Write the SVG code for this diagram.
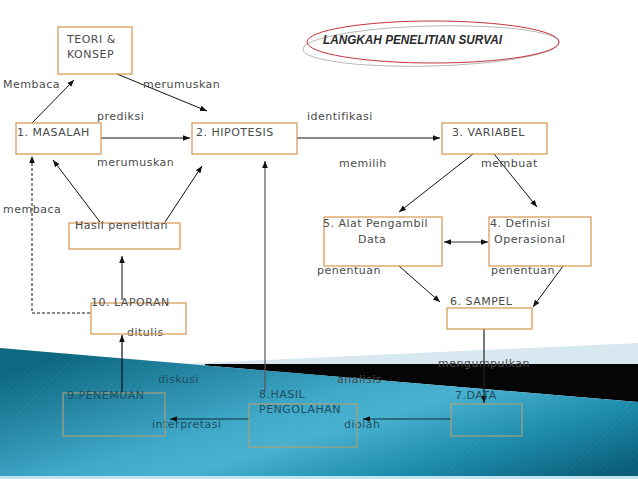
<svg xmlns="http://www.w3.org/2000/svg" width="638" height="479" viewBox="0 0 638 479">
<style>
.box{fill:none;stroke:#d6974e;stroke-width:1.2}
.boxb{fill:none;stroke:#a9a17c;stroke-width:1.2}
.t{font-family:"DejaVu Sans",sans-serif;font-size:11px;letter-spacing:0.5px;fill:#4a4a4a}
.tb{font-family:"DejaVu Sans",sans-serif;font-size:11px;letter-spacing:0.5px;fill:#204e60}
.ln{stroke:#111;stroke-width:1;fill:none}
</style>
<defs>
<marker id="ah" viewBox="0 0 10 10" refX="10" refY="5" markerWidth="7" markerHeight="7" orient="auto-start-reverse" markerUnits="userSpaceOnUse"><path d="M0,1 L10,5 L0,9 z" fill="#111"/></marker>
<linearGradient id="blue" x1="0" y1="0.2" x2="1" y2="0.9">
<stop offset="0" stop-color="#0c6781"/>
<stop offset="0.42" stop-color="#3fa8c8"/>
<stop offset="0.55" stop-color="#47b1cf"/>
<stop offset="0.78" stop-color="#1c8aac"/>
<stop offset="1" stop-color="#0a5d78"/>
</linearGradient>
<pattern id="stripes" width="5" height="5" patternUnits="userSpaceOnUse" patternTransform="rotate(45)"><line x1="0" y1="0" x2="0" y2="5" stroke="#ffffff" stroke-width="1" opacity="0.07"/></pattern>
</defs>
<rect width="638" height="479" fill="#ffffff"/>
<g id="background">
<polygon points="180,364 638,343 638,365 180,365" fill="#d7e8f0"/>
<polygon points="205,364 638,364 638,402 205,365.5" fill="#050505"/>
<polygon points="0,348 638,402 638,479 0,479" fill="url(#blue)"/>
<polygon points="0,348 638,402 638,479 0,479" fill="url(#stripes)"/>
<rect x="0" y="476" width="638" height="3" fill="#bfe6ef"/>
</g>
<g id="title">
<ellipse cx="431" cy="46" rx="128" ry="20" fill="none" stroke="#b8b8b8" stroke-width="1" transform="rotate(-1.5 431 46)"/>
<ellipse cx="433" cy="42" rx="126" ry="21" fill="none" stroke="#c8323c" stroke-width="1"/>
<text x="323" y="44" font-family="'Liberation Sans',sans-serif" font-size="12" font-weight="bold" font-style="italic" fill="#2a2a2a" textLength="179" lengthAdjust="spacingAndGlyphs">LANGKAH PENELITIAN SURVAI</text>
</g>
<g id="connectors">
<line class="ln" x1="32" y1="123" x2="74" y2="80" marker-end="url(#ah)"/>
<line class="ln" x1="117" y1="74" x2="207" y2="111" marker-end="url(#ah)"/>
<line class="ln" x1="101" y1="138" x2="190" y2="138" marker-end="url(#ah)"/>
<line class="ln" x1="297" y1="138" x2="440" y2="138" marker-end="url(#ah)"/>
<polyline points="90,313 32,313 32,156" fill="none" stroke="#111" stroke-width="1" stroke-dasharray="3,2" marker-end="url(#ah)"/>
<line class="ln" x1="100" y1="222" x2="53" y2="160" marker-end="url(#ah)"/>
<line class="ln" x1="165" y1="222" x2="202" y2="166" marker-end="url(#ah)"/>
<line class="ln" x1="122" y1="300" x2="122" y2="256" marker-end="url(#ah)"/>
<line x1="265" y1="391" x2="265" y2="161" stroke="#555" stroke-width="1.2" marker-end="url(#ah)"/>
<line class="ln" x1="473" y1="154" x2="399" y2="212" marker-end="url(#ah)"/>
<line class="ln" x1="494" y1="154" x2="537" y2="207" marker-end="url(#ah)"/>
<line x1="444" y1="242" x2="488" y2="242" stroke="#333" stroke-width="1.2" marker-start="url(#ah)" marker-end="url(#ah)"/>
<line class="ln" x1="399" y1="266" x2="440" y2="302" marker-end="url(#ah)"/>
<line class="ln" x1="563" y1="266" x2="533" y2="307" marker-end="url(#ah)"/>
<line x1="484" y1="329" x2="484" y2="403" stroke="#222" stroke-width="1.2" marker-end="url(#ah)"/>
<line x1="451" y1="419" x2="363" y2="419" stroke="#0d2e3a" stroke-width="1.2" marker-end="url(#ah)"/>
<line x1="249" y1="419" x2="170" y2="419" stroke="#0d2e3a" stroke-width="1.2" marker-end="url(#ah)"/>
<line x1="122" y1="393" x2="122" y2="335" stroke="#111" stroke-width="1.2" marker-end="url(#ah)"/>
</g>
<g id="labels">
<text class="t" x="3" y="88" font-size="10" letter-spacing="0.3">Membaca</text>
<text class="t" x="143" y="88">merumuskan</text>
<text class="t" x="97" y="120">prediksi</text>
<text class="t" x="307" y="120">identifikasi</text>
<text class="t" x="97" y="166">merumuskan</text>
<text class="t" x="339" y="167">memilih</text>
<text class="t" x="481" y="167">membuat</text>
<text class="t" x="3" y="213">membaca</text>
<text class="t" x="317" y="274">penentuan</text>
<text class="t" x="491" y="274">penentuan</text>
<text class="t" x="127" y="336">ditulis</text>
<text class="t" x="438" y="367">mengumpulkan</text>
<text class="t" x="337" y="383" fill="#555">analisis</text>
<text class="tb" x="158" y="383" fill="#2c5868">diskusi</text>
<text class="tb" x="152" y="428">interpretasi</text>
<text class="tb" x="344" y="428">diolah</text>
</g>
<g id="teori">
<rect class="box" x="58" y="27" width="74" height="47"/>
<text class="t" x="67" y="43">TEORI &amp;</text>
<text class="t" x="67" y="58">KONSEP</text>
</g>
<g id="masalah">
<rect class="box" x="16" y="123" width="85" height="31"/>
<text class="t" x="17" y="136">1. MASALAH</text>
</g>
<g id="hipotesis">
<rect class="box" x="192" y="123" width="105" height="31"/>
<text class="t" x="196" y="136">2. HIPOTESIS</text>
</g>
<g id="variabel">
<rect class="box" x="442" y="123" width="105" height="31"/>
<text class="t" x="452" y="136">3. VARIABEL</text>
</g>
<g id="hasil-penelitian">
<rect class="box" x="69" y="223" width="111" height="26"/>
<text class="t" x="75" y="229">Hasil penelitian</text>
</g>
<g id="alat">
<rect class="box" x="324" y="217" width="118" height="49"/>
<text class="t" x="323" y="227">5. Alat Pengambil</text>
<text class="t" x="358" y="243">Data</text>
</g>
<g id="definisi">
<rect class="box" x="489" y="217" width="102" height="49"/>
<text class="t" x="490" y="227">4. Definisi</text>
<text class="t" x="494" y="243">Operasional</text>
</g>
<g id="sampel">
<rect class="box" x="447" y="308" width="85" height="21"/>
<text class="t" x="450" y="305">6. SAMPEL</text>
</g>
<g id="laporan">
<rect class="box" x="91" y="303" width="95" height="31"/>
<text class="t" x="91" y="306">10. LAPORAN</text>
</g>
<g id="data">
<rect class="boxb" x="451" y="404" width="71" height="32"/>
<text class="tb" x="455" y="399" fill="#2a6378">7.DATA</text>
</g>
<g id="hasil-pengolahan">
<rect class="boxb" x="249" y="404" width="108" height="43"/>
<text class="tb" x="259" y="398">8.HASIL</text>
<text class="tb" x="259" y="413">PENGOLAHAN</text>
</g>
<g id="penemuan">
<rect class="boxb" x="63" y="393" width="102" height="43"/>
<text class="tb" x="67" y="399" fill="#1d5a70">9.PENEMUAN</text>
</g>
</svg>
